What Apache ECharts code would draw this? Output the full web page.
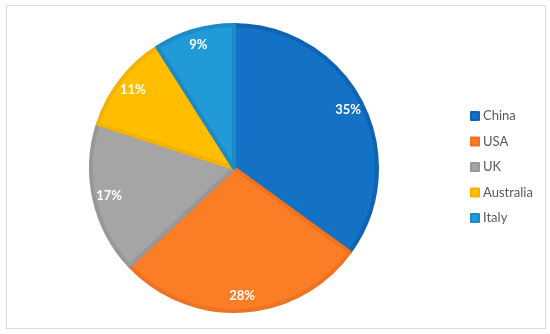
<!DOCTYPE html>
<html>
<head>
<meta charset="utf-8">
<script src="https://cdn.jsdelivr.net/npm/echarts@6/dist/echarts.min.js"></script>
<style>
html,body{margin:0;padding:0;background:#fff;}
#chart{width:550px;height:334px;}
</style>
</head>
<body>
<div id="chart"></div>
<script>
const categories = ["China", "USA", "UK", "Australia", "Italy"];
const shares = [35, 28, 17, 11, 9];
const fills = ["#1371C6", "#FB7E27", "#A5A5A5", "#FFBF00", "#229AD7"];
const borders = ["#0F63B2", "#EE7322", "#989898", "#F5B300", "#1B8BC7"];

const chart = echarts.init(document.getElementById('chart'));
const data = categories.map((c, i) => ({
  name: c, value: shares[i],
  itemStyle: { color: fills[i], borderColor: borders[i] }
}));
const labelData = categories.map((c, i) => ({ name: c, value: shares[i] }));

chart.setOption({
  animation: false,
  graphic: [{
    type: 'rect', silent: true, z: -10,
    shape: { x: 6.5, y: 5.5, width: 539, height: 323 },
    style: { fill: '#fff', stroke: '#d9d9d9', lineWidth: 1 }
  }],
  legend: {
    orient: 'vertical',
    left: 470, top: 109, padding: 0,
    icon: 'rect', itemWidth: 8, itemHeight: 8, itemGap: 11.5,
    data: categories,
    textStyle: { color: '#595959', fontSize: 13, fontFamily: 'Lato', lineHeight: 14, padding: [0, 0, 0, -1] }
  },
  series: [{
    type: 'pie',
    center: [234, 168],
    radius: [0, 143],
    startAngle: 90,
    clockwise: true,
    data: data,
    label: { show: false },
    labelLine: { show: false },
    itemStyle: { borderWidth: 4 },
    emphasis: { disabled: true }
  }, {
    type: 'pie',
    center: [234, 168],
    radius: [105, 145],
    startAngle: 90,
    clockwise: true,
    silent: true,
    legendHoverLink: false,
    data: labelData,
    itemStyle: { color: 'transparent', borderWidth: 0 },
    label: {
      show: true, position: 'inside',
      formatter: p => p.value + '%',
      color: '#fff', fontWeight: 'bold', fontSize: 13, fontFamily: 'Lato'
    },
    labelLine: { show: false },
    emphasis: { disabled: true },
    z: 3
  }]
});
</script>
</body>
</html>
